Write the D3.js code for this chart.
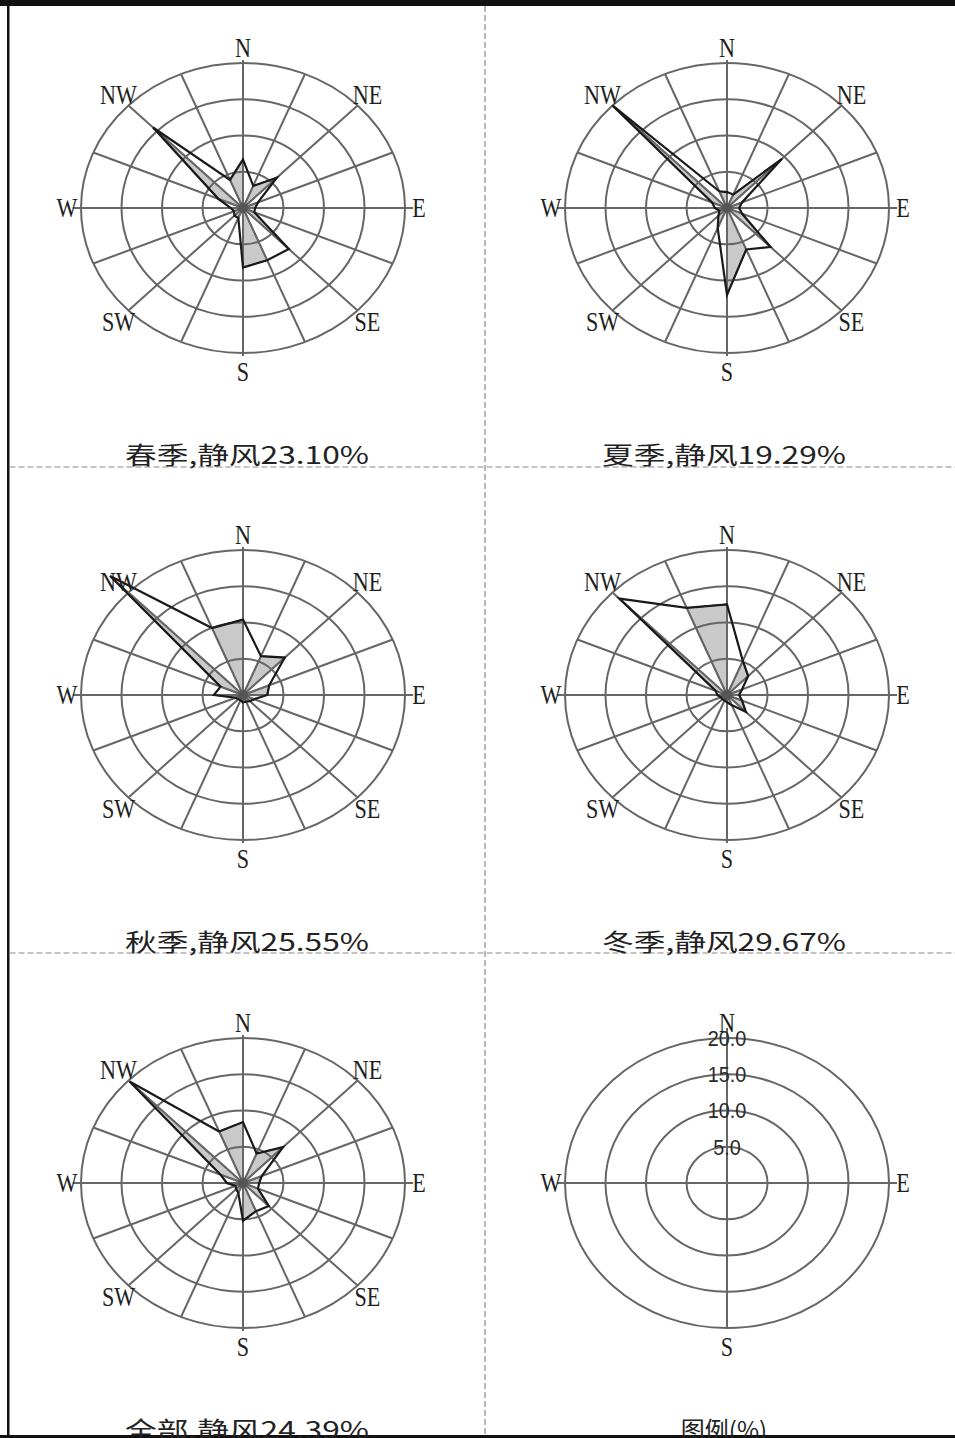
<!DOCTYPE html>
<html>
<head>
<meta charset="utf-8">
<script src="https://cdn.jsdelivr.net/npm/d3@7"></script>
<style>
  body { margin: 0; background: #fff; }
  svg { display: block; }
</style>
</head>
<body>
<svg id="chart" width="955" height="1438"></svg>
<script>
// 16 compass directions, clockwise from north
const directions = ["N", "NNE", "NE", "ENE", "E", "ESE", "SE", "SSE",
                    "S", "SSW", "SW", "WSW", "W", "WNW", "NW", "NNW"];
const ringTicks = [5, 10, 15, 20];
const compassLabels = ["N", "NE", "E", "SE", "S", "SW", "W", "NW"];

// wind direction frequency (%) per direction
const springFreq = [6.7, 3.3, 5.9, 2.0, 1.5, 1.5, 8.0, 7.8, 8.2, 1.5, 1.5, 1.2, 1.5, 3.3, 15.7, 4.2];
const summerFreq = [2.2, 2.0, 9.6, 2.0, 1.5, 2.0, 7.6, 6.2, 12.0, 3.0, 1.5, 1.0, 1.5, 2.0, 20.0, 2.5];
const autumnFreq = [10.4, 5.8, 7.3, 3.5, 3.0, 1.5, 1.2, 1.0, 1.0, 0.8, 0.8, 1.0, 3.6, 3.0, 23.2, 10.0];
const winterFreq = [12.5, 5.1, 3.7, 2.0, 1.5, 2.0, 3.3, 1.5, 1.0, 0.8, 0.8, 0.8, 1.2, 1.5, 18.8, 13.0];
const allFreq    = [8.4, 4.4, 7.0, 2.5, 2.0, 2.0, 4.5, 4.2, 5.2, 1.5, 1.2, 1.0, 2.0, 3.0, 19.8, 7.7];

const captions = ["春季,静风23.10%", "夏季,静风19.29%", "秋季,静风25.55%",
                  "冬季,静风29.67%", "全部,静风24.39%", "图例(%)"];

const series = [springFreq, summerFreq, autumnFreq, winterFreq, allFreq, null]; // last panel = legend

const W = 955, H = 1438;
const colX = [243, 727];
const rowY = [208, 695, 1183];
const captionX = [247, 724];
const captionDy = 256;

// elliptical radial scales
const rx = d3.scaleLinear().domain([0, 20]).range([0, 162]);
const ry = d3.scaleLinear().domain([0, 20]).range([0, 145]);
const angle = d3.scaleLinear().domain([0, 16]).range([0, 2 * Math.PI]);

const gridColor = "#666";
const svg = d3.select("#chart");

// frame: thick top band, left rule, bottom rule
svg.append("rect").attr("x", 0).attr("y", 0).attr("width", W).attr("height", 6).attr("fill", "#111");
svg.append("rect").attr("x", 7).attr("y", 0).attr("width", 2.5).attr("height", H).attr("fill", "#111");
svg.append("rect").attr("x", 0).attr("y", H - 3).attr("width", W).attr("height", 3).attr("fill", "#111");

// dashed separators
const dash = svg.append("g").attr("stroke", "#8a8a8a").attr("stroke-width", 1.2).attr("stroke-dasharray", "6,3");
dash.append("line").attr("x1", 485).attr("x2", 485).attr("y1", 6).attr("y2", H - 3);
[467, 953].forEach(y => dash.append("line").attr("x1", 9.5).attr("x2", W).attr("y1", y).attr("y2", y));

function pt(i, v) {
  const a = angle(i);
  return [rx(v) * Math.sin(a), -ry(v) * Math.cos(a)];
}

function drawLabel(g, text, x, y) {
  g.append("text")
    .attr("transform", `translate(${x},${y}) scale(0.82,1)`)
    .attr("text-anchor", "middle")
    .attr("dy", "0.35em")
    .attr("font-family", "Liberation Serif, serif")
    .attr("font-size", 27)
    .attr("fill", "#1e1e1e")
    .text(text);
}

series.forEach((vals, k) => {
  const cx = colX[k % 2], cy = rowY[Math.floor(k / 2)];
  const g = svg.append("g").attr("transform", `translate(${cx},${cy})`);

  if (vals) {
    // shaded wedges: every other sector of the rose, centre -> P_i -> P_i+1
    const wedges = d3.range(1, 16, 2).map(i => [[0, 0], pt(i, vals[i]), pt((i + 1) % 16, vals[(i + 1) % 16])]);
    g.selectAll("path.wedge").data(wedges).enter().append("path")
      .attr("class", "wedge")
      .attr("d", d => d3.line().curve(d3.curveLinearClosed)(d))
      .attr("fill", "#c9c9c9")
      .attr("stroke", "#3a3a3a")
      .attr("stroke-width", 1.4);
  }

  // rings
  g.selectAll("ellipse.ring").data(ringTicks).enter().append("ellipse")
    .attr("class", "ring")
    .attr("rx", d => rx(d)).attr("ry", d => ry(d))
    .attr("fill", "none").attr("stroke", gridColor).attr("stroke-width", 2);

  if (vals) {
    // spokes
    g.selectAll("line.spoke").data(directions).enter().append("line")
      .attr("class", "spoke")
      .attr("x1", 0).attr("y1", 0)
      .attr("x2", (d, i) => pt(i, 20)[0] * (i === 4 || i === 12 ? 1.05 : 1))
      .attr("y2", (d, i) => pt(i, 20)[1] * (i === 0 || i === 8 ? 1.02 : 1))
      .attr("stroke", gridColor).attr("stroke-width", 2);

    // rose outline
    g.append("path")
      .attr("d", d3.line().curve(d3.curveLinearClosed)(vals.map((v, i) => pt(i, v))))
      .attr("fill", "none")
      .attr("stroke", "#1a1a1a")
      .attr("stroke-width", 2.2)
      .attr("stroke-linejoin", "miter");

    // dark hub where the spokes meet
    g.append("ellipse").attr("rx", 5).attr("ry", 5).attr("fill", "#555");

    compassLabels.forEach((t, j) => {
      const a = angle(j * 2);
      drawLabel(g, t, 176 * Math.sin(a), -160 * Math.cos(a) + (j === 4 ? 4 : 0));
    });
  } else {
    // legend: cross axes and ring values
    g.append("line").attr("x1", -170).attr("x2", 170).attr("y1", 0).attr("y2", 0)
      .attr("stroke", gridColor).attr("stroke-width", 2);
    g.append("line").attr("x1", 0).attr("x2", 0).attr("y1", -155).attr("y2", 145)
      .attr("stroke", gridColor).attr("stroke-width", 2);
    ["N", "E", "S", "W"].forEach((t, j) => {
      const a = angle(j * 4);
      drawLabel(g, t, 176 * Math.sin(a), -160 * Math.cos(a) + (j === 2 ? 4 : 0));
    });
    g.selectAll("text.tick").data(ringTicks).enter().append("text")
      .attr("class", "tick")
      .attr("transform", d => `translate(0,${-ry(d)}) scale(0.9,1)`)
      .attr("text-anchor", "middle")
      .attr("dy", "0.36em")
      .attr("font-family", "Liberation Sans, Arial, sans-serif")
      .attr("font-size", 22)
      .attr("fill", "#2a2a2a")
      .text(d => d3.format(".1f")(d));
  }

  // caption
  const cap = svg.append("text")
    .attr("x", captionX[k % 2])
    .attr("y", cy + captionDy)
    .attr("text-anchor", "middle")
    .attr("font-family", "Noto Sans CJK SC, sans-serif")
    .attr("font-size", 24)
    .attr("fill", "#222")
    .text(captions[k]);
  if (vals) cap.attr("textLength", 244).attr("lengthAdjust", "spacingAndGlyphs");
});
</script>
</body>
</html>
